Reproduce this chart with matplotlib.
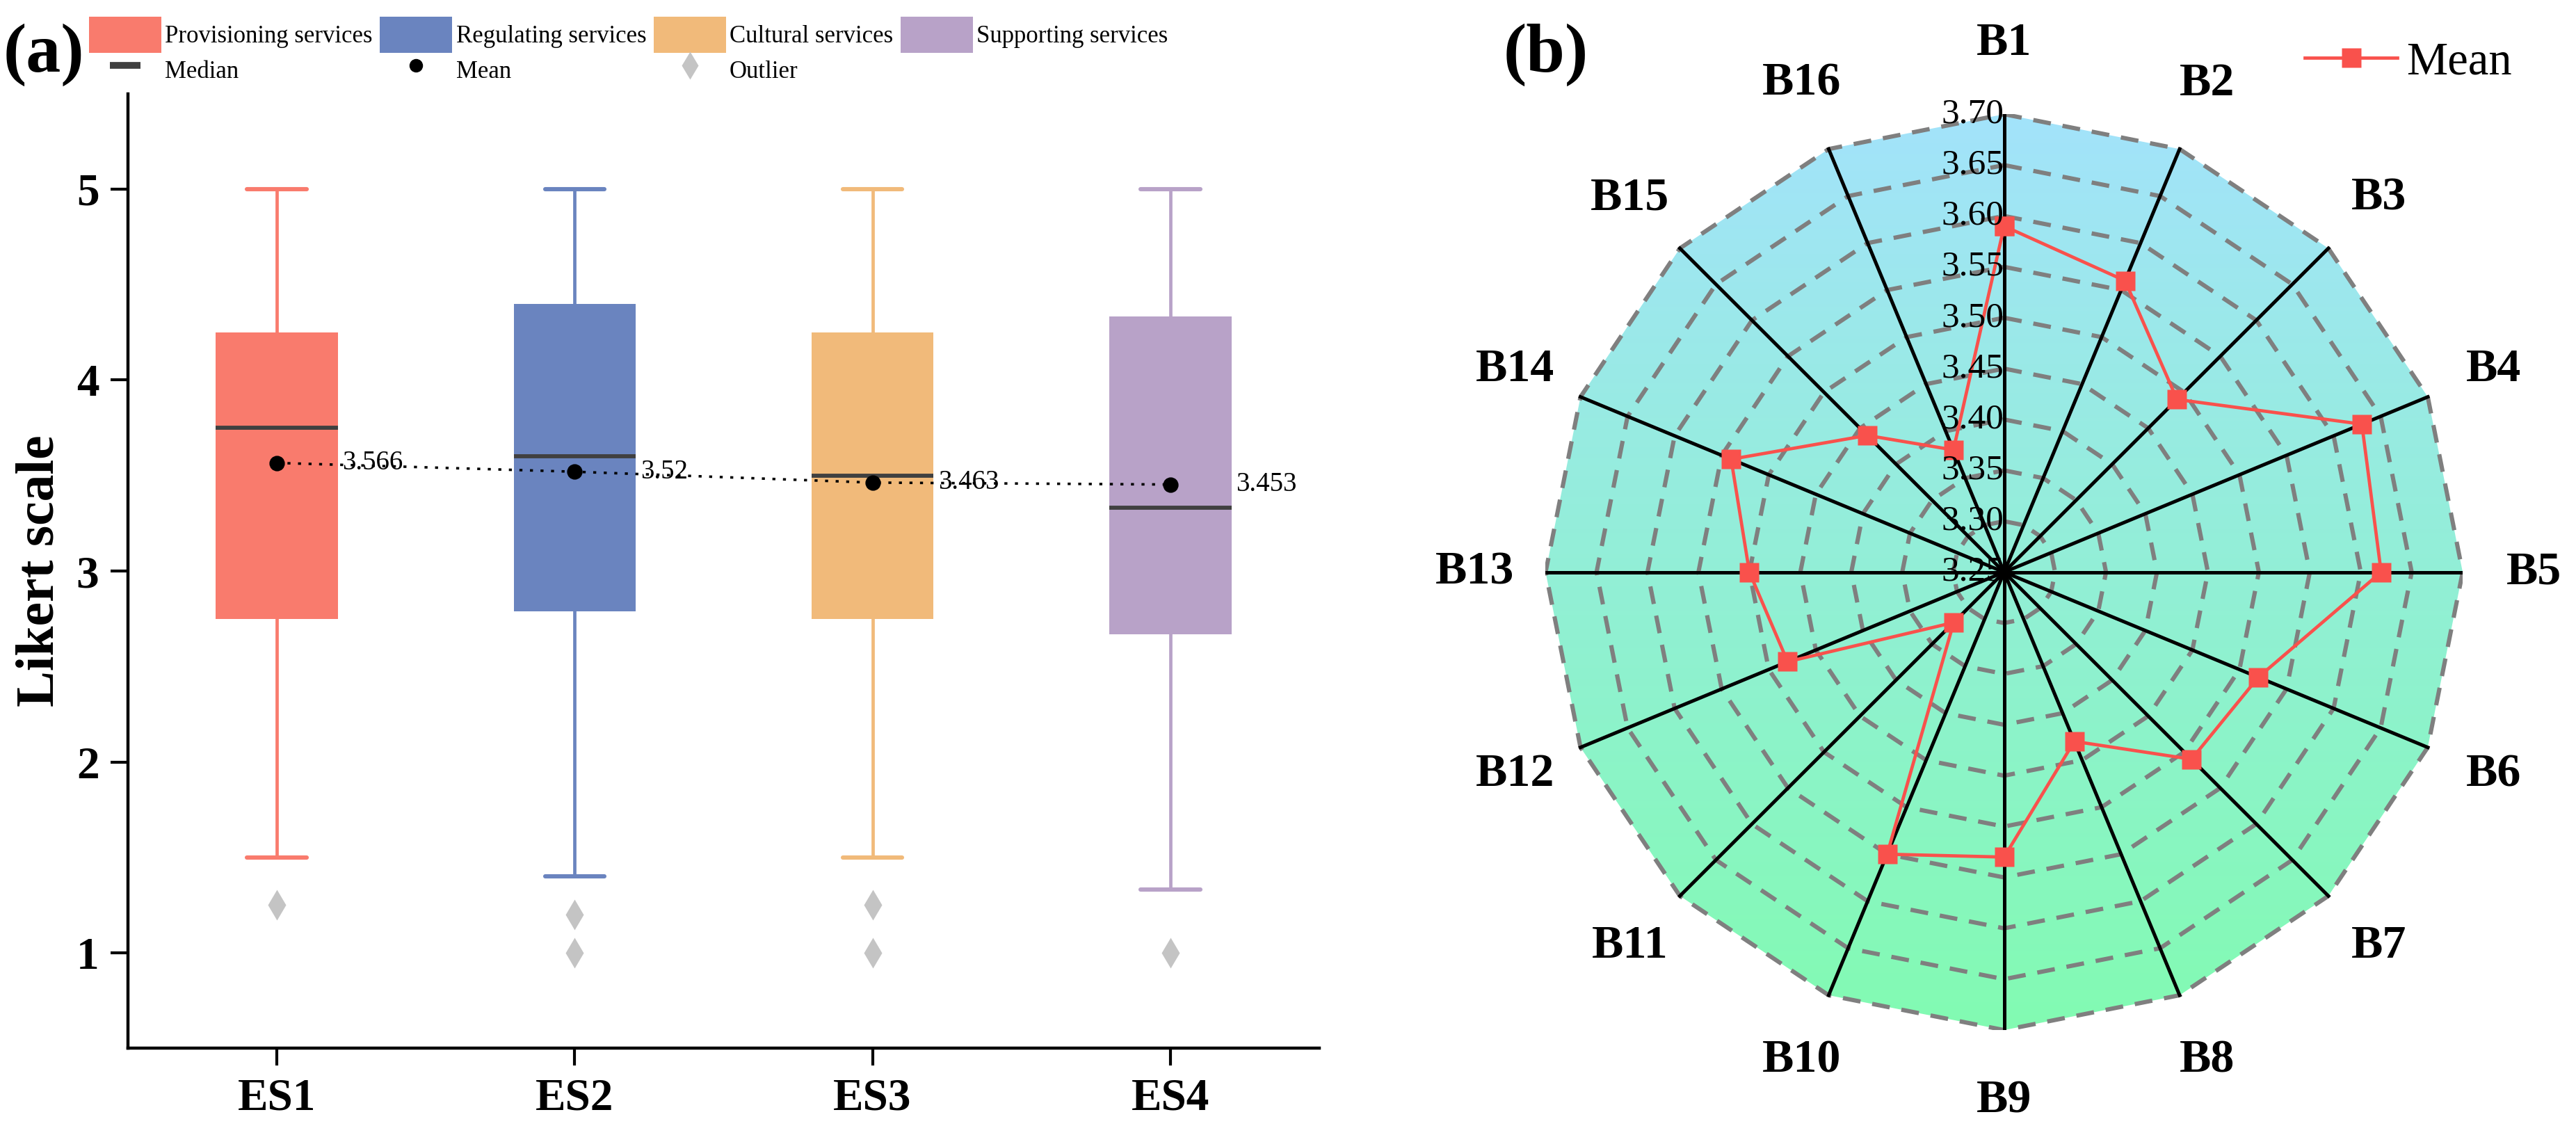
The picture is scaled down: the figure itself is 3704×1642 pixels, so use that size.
import matplotlib
matplotlib.use("Agg")
import matplotlib.pyplot as plt
import numpy as np
from matplotlib.colors import LinearSegmentedColormap
from matplotlib.lines import Line2D
from matplotlib.patches import Patch, Polygon

plt.rcParams["font.family"] = ["Liberation Serif", "DejaVu Serif"]

# ---- panel (a): Likert scores per ecosystem-service group ----
services = ["Provisioning services", "Regulating services",
            "Cultural services", "Supporting services"]
es_labels = ["ES1", "ES2", "ES3", "ES4"]
box_colors = ["#F97B6D", "#6A84BF", "#F1BA7A", "#B8A2C8"]
whisker_low = [1.5, 1.4, 1.5, 1.333]
q1 = [2.75, 2.79, 2.75, 2.667]
medians = [3.75, 3.6, 3.5, 3.333]
q3 = [4.25, 4.4, 4.25, 4.333]
whisker_high = [5.0, 5.0, 5.0, 5.0]
means = [3.566, 3.52, 3.463, 3.453]
mean_labels = ["3.566", "3.52", "3.463", "3.453"]
outliers = [[1.25], [1.2, 1.0], [1.25, 1.0], [1.0]]
y_ticks = [1, 2, 3, 4, 5]

# ---- panel (b): mean score of the 16 indicators ----
indicators = ["B1", "B2", "B3", "B4", "B5", "B6", "B7", "B8",
              "B9", "B10", "B11", "B12", "B13", "B14", "B15", "B16"]
indicator_means = [3.59, 3.56, 3.49, 3.63, 3.62, 3.52, 3.51, 3.43,
                   3.53, 3.55, 3.32, 3.48, 3.50, 3.54, 3.44, 3.38]
r_ticks = [3.25, 3.30, 3.35, 3.40, 3.45, 3.50, 3.55, 3.60, 3.65, 3.70]

fig = plt.figure(figsize=(18.52, 8.21), dpi=200)

# ================= (a) box plot =================
ax = fig.add_axes([0.0497, 0.082, 0.4624, 0.836])
positions = np.arange(1, len(es_labels) + 1)
stats = []
for i in range(len(es_labels)):
    stats.append({
        "whislo": whisker_low[i], "q1": q1[i], "med": medians[i],
        "q3": q3[i], "whishi": whisker_high[i], "mean": means[i],
        "fliers": outliers[i],
    })

bp = ax.bxp(stats, positions=positions, widths=0.41, capwidths=0.2,
            patch_artist=True, showmeans=False, showfliers=True,
            medianprops=dict(color="#404040", linewidth=2.1),
            flierprops=dict(marker="d", markersize=11, markerfacecolor="#C4C4C4",
                            markeredgecolor="none", linestyle="none"))
for i, patch in enumerate(bp["boxes"]):
    patch.set_facecolor(box_colors[i])
    patch.set_edgecolor("none")
for i in range(len(es_labels)):
    for ln in bp["whiskers"][2 * i:2 * i + 2]:
        ln.set_color(box_colors[i])
        ln.set_linewidth(1.7)
    for ln in bp["caps"][2 * i:2 * i + 2]:
        ln.set_color(box_colors[i])
        ln.set_linewidth(2.2)
        ln.set_solid_capstyle("round")

ax.plot(positions, means, linestyle=(0, (1.2, 3.0)), color="black", lw=1.3, zorder=4)
ax.plot(positions, means, "o", color="black", markersize=7, zorder=5)
for x, m, lab in zip(positions, means, mean_labels):
    ax.text(x + 0.22, m, lab, ha="left", va="center", fontsize=14, zorder=6)

ax.set_xlim(0.5, 4.5)
ax.set_ylim(0.5, 5.5)
ax.set_xticks(positions)
ax.set_xticklabels(es_labels)
ax.set_yticks(y_ticks)
ax.spines["top"].set_visible(False)
ax.spines["right"].set_visible(False)
for s in ("left", "bottom"):
    ax.spines[s].set_linewidth(1.6)
ax.tick_params(axis="both", direction="out", length=9, width=1.5,
               labelsize=23.5, pad=6)
for t in ax.get_xticklabels() + ax.get_yticklabels():
    t.set_fontweight("bold")
ax.set_ylabel("Likert scale", fontsize=28, fontweight="bold", labelpad=6)

legend_handles = [
    Patch(facecolor=box_colors[0], edgecolor="none"),
    Line2D([], [], marker="_", markersize=16, markeredgewidth=3.5,
           color="#404040", linestyle="none"),
    Patch(facecolor=box_colors[1], edgecolor="none"),
    Line2D([], [], marker="o", markersize=6, color="black", linestyle="none"),
    Patch(facecolor=box_colors[2], edgecolor="none"),
    Line2D([], [], marker="d", markersize=10, color="#C4C4C4",
           markeredgecolor="none", linestyle="none"),
    Patch(facecolor=box_colors[3], edgecolor="none"),
    Line2D([], [], linestyle="none"),
]
legend_labels = [services[0], "Median", services[1], "Mean",
                 services[2], "Outlier", services[3], ""]
fig.legend(legend_handles, legend_labels, ncol=4, loc="upper left",
           bbox_to_anchor=(0.028, 1.0), frameon=False, fontsize=12.5,
           handlelength=3.0, handleheight=1.9, handletextpad=0.15,
           columnspacing=0.3, labelspacing=0.0, borderpad=0.2)

fig.text(0.017, 0.952, "(a)", fontsize=36, fontweight="bold",
         ha="center", va="center")

# ================= (b) radar =================
rax = fig.add_axes([0.600, 0.098, 0.356, 0.802])
r0, r1 = r_ticks[0], r_ticks[-1]
n = len(indicators)
theta = np.arange(n) * 2 * np.pi / n


def to_xy(values):
    rr = np.asarray(values, dtype=float) - r0
    return rr * np.sin(theta), rr * np.cos(theta)


R = r1 - r0
ox, oy = to_xy([r1] * n)
outer = Polygon(np.column_stack([ox, oy]), closed=True, facecolor="none",
                edgecolor="none")
rax.add_patch(outer)
cmap = LinearSegmentedColormap.from_list("bg", ["#82FBB2", "#A3E3FB"])
grad = np.linspace(0, 1, 256).reshape(-1, 1)
im = rax.imshow(grad, extent=(-R, R, -R, R), origin="lower", cmap=cmap,
                aspect="auto", zorder=0)
im.set_clip_path(outer)

for r in r_ticks[1:]:
    gx, gy = to_xy([r] * n)
    rax.plot(np.append(gx, gx[0]), np.append(gy, gy[0]), color="#7F7F7F",
             lw=2.2, linestyle=(0, (4.2, 2.8)), zorder=1)
for x, y in zip(ox, oy):
    rax.plot([0, x], [0, y], color="black", lw=1.8, zorder=2)

mx, my = to_xy(indicator_means)
mean_line, = rax.plot(np.append(mx, mx[0]), np.append(my, my[0]),
                      color="#F9514C", lw=1.7, marker="s", markersize=10,
                      markeredgecolor="none", zorder=4, label="Mean")

for r in r_ticks:
    rax.text(0.0, r - r0, f"{r:.2f}", ha="right", va="center",
             fontsize=18.5, zorder=5)

lab_r = R * 1.155
for name, t in zip(indicators, theta):
    rax.text(lab_r * np.sin(t), lab_r * np.cos(t), name, ha="center",
             va="center", fontsize=24.5, fontweight="bold")

rax.set_xlim(-R, R)
rax.set_ylim(-R, R)
rax.axis("off")

fig.legend(handles=[mean_line], loc="center right",
           bbox_to_anchor=(0.986, 0.945), frameon=False, fontsize=24,
           handlelength=2.0, handletextpad=0.2, borderpad=0.1)

fig.text(0.600, 0.952, "(b)", fontsize=36, fontweight="bold",
         ha="center", va="center")

fig.savefig("out.png", dpi=200)
